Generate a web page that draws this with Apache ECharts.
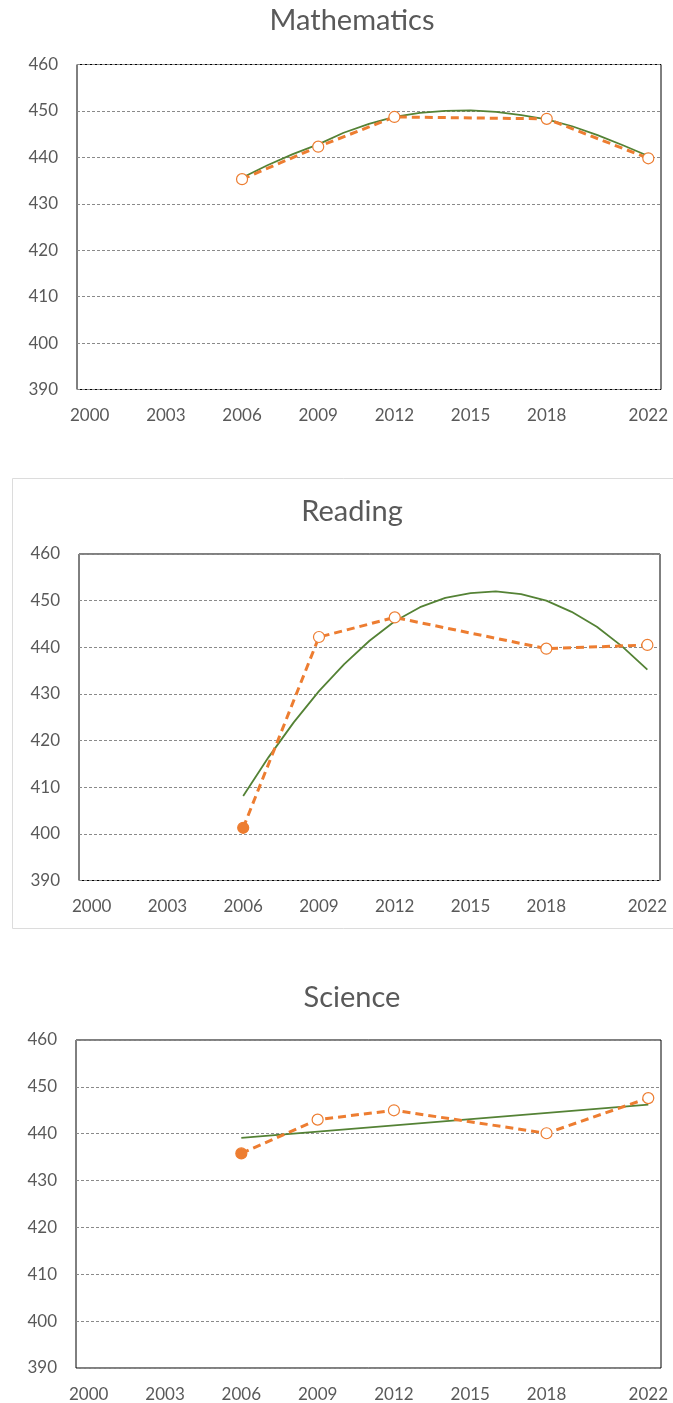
<!DOCTYPE html>
<html>
<head>
<meta charset="utf-8">
<script src="https://cdn.jsdelivr.net/npm/echarts@6/dist/echarts.min.js"></script>
<style>
  html, body { margin: 0; padding: 0; background: #ffffff; }
  #chart { width: 673px; height: 1403px; }
</style>
</head>
<body>
<div id="chart"></div>
<script>
// Survey years with results, and the mean score in each subject
const years = [2006, 2009, 2012, 2018, 2022];
const mathScores = [435.3, 442.3, 448.7, 448.3, 439.8];
const readingScores = [401.3, 442.2, 446.4, 439.7, 440.5];
const scienceScores = [435.8, 443.0, 445.0, 440.1, 447.6];

// Fitted trend lines
const trendYears = [2006, 2007, 2008, 2009, 2010, 2011, 2012, 2013, 2014,
                    2015, 2016, 2017, 2018, 2019, 2020, 2021, 2022];
const mathTrend = [435.6, 438.3, 440.7, 442.8, 445.3, 447.2, 448.7, 449.6, 450.0,
                   450.1, 449.8, 449.1, 448.2, 446.7, 444.8, 442.6, 440.3];
const readingTrend = [408.1, 416.4, 423.9, 430.6, 436.4, 441.4, 445.6, 448.6, 450.6,
                      451.6, 452.0, 451.4, 450.0, 447.6, 444.4, 440.2, 435.2];
const scienceTrendYears = [2006, 2022];
const scienceTrend = [439.1, 446.2];

// Axis tick labels
const yearTicks = [2000, 2003, 2006, 2009, 2012, 2015, 2018, 2022];
const scoreMin = 390, scoreMax = 460, scoreStep = 10;

const ORANGE = '#ED7D31';
const GREEN = '#548235';
const TEXT = '#595959';
const FONT = 'Lato, "Open Sans", sans-serif';

const panels = [
  { title: 'Mathematics', scores: mathScores, tYears: trendYears, trend: mathTrend,
    firstFilled: false, grid: { left: 77, right: 12, top: 64.5, height: 325 }, titleY: 21 },
  { title: 'Reading', scores: readingScores, tYears: trendYears, trend: readingTrend,
    firstFilled: true, grid: { left: 79, right: 13, top: 554, height: 326.5 }, titleY: 512 },
  { title: 'Science', scores: scienceScores, tYears: scienceTrendYears, trend: scienceTrend,
    firstFilled: true, grid: { left: 76, right: 12, top: 1040, height: 328 }, titleY: 998 }
];

const pair = (xs, ys) => xs.map((x, i) => [x, ys[i]]);

const grids = [], xAxes = [], yAxes = [], series = [];
panels.forEach((p, i) => {
  grids.push(Object.assign({ show: true, borderColor: '#000000', borderWidth: 1,
                             backgroundColor: 'transparent' }, p.grid));
  xAxes.push({
    type: 'value', gridIndex: i, min: 1999.5, max: 2022.5,
    axisLine: { show: false }, axisTick: { show: false }, splitLine: { show: false },
    axisLabel: { customValues: yearTicks, formatter: v => String(v),
                 color: TEXT, fontFamily: FONT, fontSize: 17, margin: 18 }
  });
  yAxes.push({
    type: 'value', gridIndex: i, min: scoreMin, max: scoreMax, interval: scoreStep,
    axisLine: { show: false }, axisTick: { show: false },
    splitLine: { show: true, lineStyle: { color: '#8a8a8a', width: 1, type: [3, 2] } },
    axisLabel: { color: TEXT, fontFamily: FONT, fontSize: 17, margin: 19 }
  });
  series.push({
    type: 'line', xAxisIndex: i, yAxisIndex: i, z: 2,
    data: pair(p.tYears, p.trend),
    showSymbol: false, symbol: 'none', silent: true,
    lineStyle: { color: GREEN, width: 1.8 }
  });
  series.push({
    type: 'line', xAxisIndex: i, yAxisIndex: i, z: 3,
    data: pair(years, p.scores).map((d, k) => (k === 0 && p.firstFilled)
      ? { value: d, itemStyle: { color: ORANGE, borderColor: ORANGE } }
      : { value: d }),
    symbol: 'circle', symbolSize: 11, showAllSymbol: true,
    itemStyle: { color: '#ffffff', borderColor: ORANGE, borderWidth: 1.2 },
    lineStyle: { color: ORANGE, width: 3, type: [8, 5] }
  });
});

const graphics = panels.map(p => ({
  type: 'text', x: 352, y: p.titleY, z: 10,
  style: { text: p.title, fill: TEXT, font: '29px ' + FONT,
           textAlign: 'center', textVerticalAlign: 'middle' }
}));
// light frame around the middle panel
graphics.unshift({
  type: 'rect', z: -1, silent: true,
  shape: { x: 12.5, y: 478.5, width: 680, height: 450 },
  style: { fill: 'none', stroke: '#dcdcdc', lineWidth: 1 }
});

const chart = echarts.init(document.getElementById('chart'), null, { renderer: 'canvas' });
chart.setOption({
  animation: false,
  backgroundColor: '#ffffff',
  grid: grids, xAxis: xAxes, yAxis: yAxes, series: series,
  graphic: graphics
});
</script>
</body>
</html>
